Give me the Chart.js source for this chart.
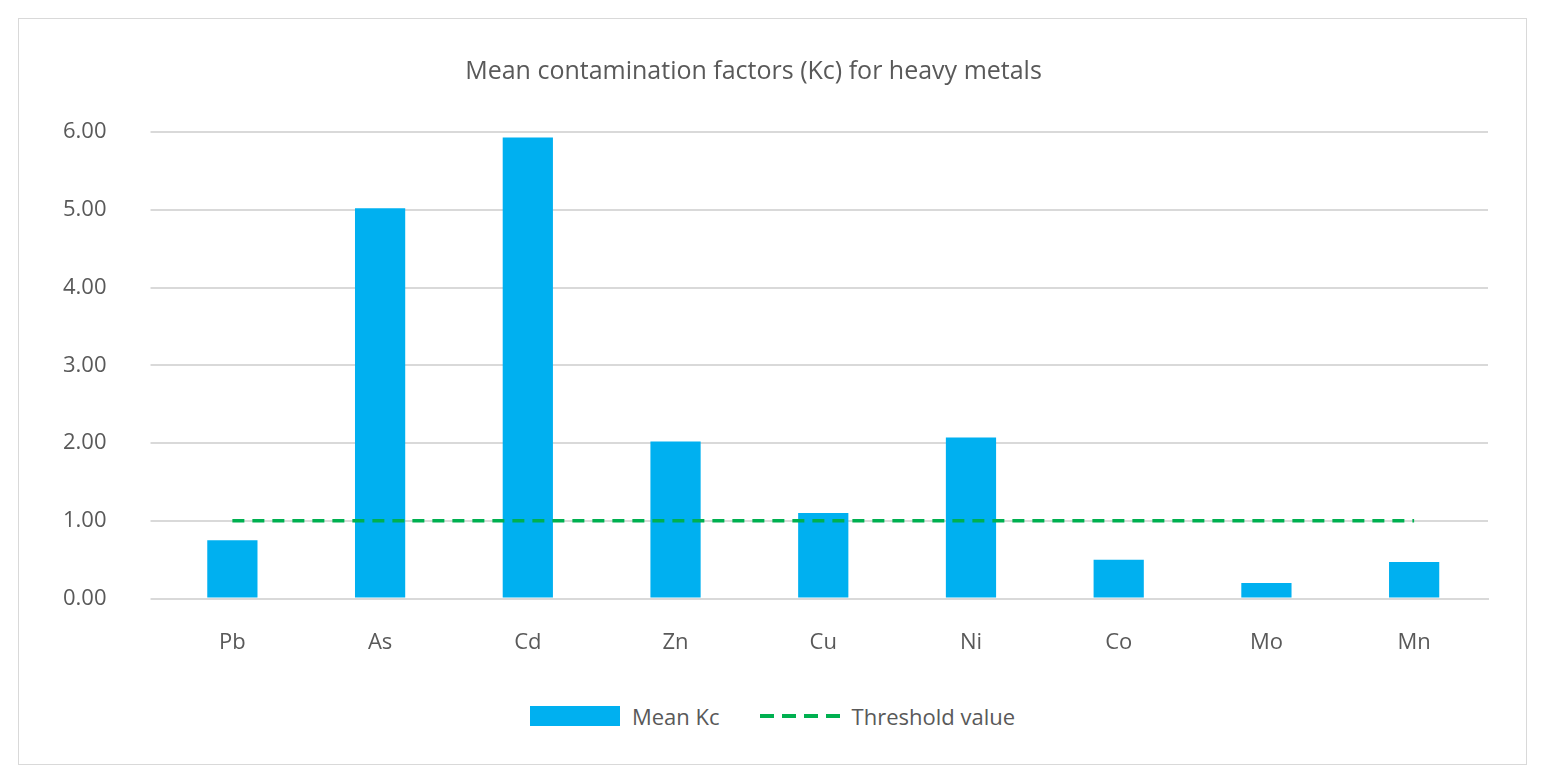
<!DOCTYPE html>
<html><head><meta charset="utf-8">
<script src="https://cdn.jsdelivr.net/npm/chart.js@4"></script>
<style>
body{margin:0;background:#fff;font-family:"Open Sans",sans-serif;}
.card{position:absolute;left:18px;top:18px;width:1507px;height:745px;border:1px solid #d9d9d9;}
.box{position:absolute;left:0;top:0;width:1507px;height:660px;}
.legend{position:absolute;top:682px;left:0;width:100%;display:flex;justify-content:center;gap:40px;font-size:22px;color:#595959;align-items:center;}
.legend span{display:inline-flex;align-items:center;gap:12px;}
.sw-bar{width:90px;height:20px;background:#00B0F0;display:inline-block;}
.sw-line{width:80px;height:4px;display:inline-block;background:repeating-linear-gradient(90deg,#00B050 0 14px,transparent 14px 22px);}
</style></head>
<body>
<div class="card">
  <div class="box"><canvas id="c"></canvas></div>
  <div class="legend"><span><i class="sw-bar"></i>Mean Kc</span><span><i class="sw-line"></i>Threshold value</span></div>
</div>
<script>
// Mean Kc per metal
const metals = ["Pb","As","Cd","Zn","Cu","Ni","Co","Mo","Mn"];
const meanKc = [0.75, 5.02, 5.93, 2.02, 1.10, 2.07, 0.50, 0.20, 0.47];
const threshold = metals.map(() => 1);

Chart.defaults.font.family = "'Open Sans', sans-serif";
Chart.defaults.color = "#595959";

new Chart(document.getElementById("c"), {
  data: {
    labels: metals,
    datasets: [
      { type: "line", label: "Threshold value", data: threshold, borderColor: "#00B050",
        borderDash: [12, 8], borderWidth: 3.5, pointRadius: 0, fill: false, order: 0 },
      { type: "bar", label: "Mean Kc", data: meanKc, backgroundColor: "#00B0F0",
        categoryPercentage: 1, barPercentage: 0.34, order: 1 },
    ],
  },
  options: {
    responsive: true, maintainAspectRatio: false, animation: false,
    layout: { padding: { left: 0, right: 38, top: 10, bottom: 0 } },
    plugins: {
      legend: { display: false },
      title: { display: true, text: "Mean contamination factors (Kc) for heavy metals",
        font: { size: 25, weight: "normal" }, color: "#595959", padding: { top: 28, bottom: 45 } },
    },
    scales: {
      x: { grid: { display: false }, border: { color: "#d9d9d9", width: 2 },
        ticks: { font: { size: 22 }, padding: 23 } },
      y: { min: 0, max: 6, grid: { color: "#d9d9d9", lineWidth: 2 }, border: { display: false },
        ticks: { stepSize: 1, font: { size: 22 }, padding: 44, callback: (v) => v.toFixed(2) } },
    },
  },
});
</script>
</body></html>
